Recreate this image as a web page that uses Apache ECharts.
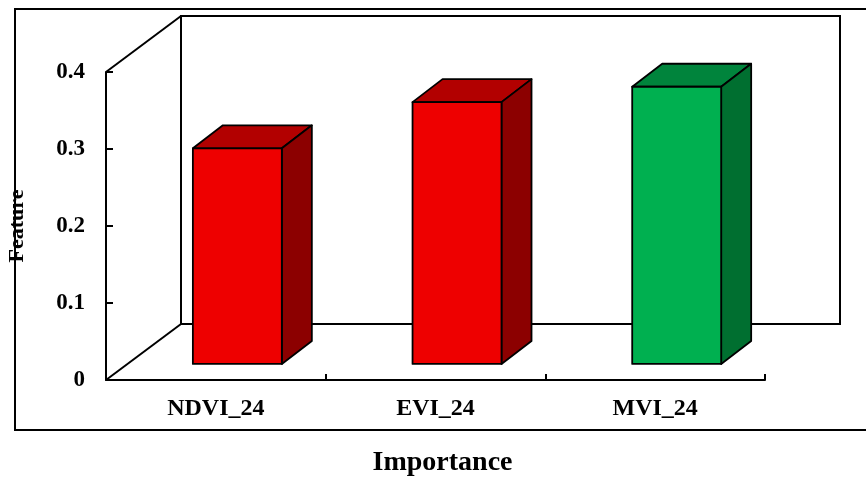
<!DOCTYPE html>
<html>
<head>
<meta charset="utf-8">
<script src="https://cdn.jsdelivr.net/npm/echarts@6/dist/echarts.min.js"></script>
<style>html,body{margin:0;padding:0;background:#fff;}#c{width:866px;height:479px;}</style>
</head>
<body>
<div id="c"></div>
<script>
// ---- data ----
const categories = ['NDVI_24', 'EVI_24', 'MVI_24'];
const importance = [0.28, 0.34, 0.36];
const yTickValues = [0, 0.1, 0.2, 0.3, 0.4];

// ---- style ----
const FONT = 'Liberation Serif';
const faceColors = [
  { front: '#EE0000', top: '#B20000', side: '#8C0000' },
  { front: '#EE0000', top: '#B20000', side: '#8C0000' },
  { front: '#00B050', top: '#00843C', side: '#006F30' }
];
const DEPTH_X = 75, DEPTH_Y = -56;   // full floor depth vector (px)
const FRONT = 0.287;                 // bar front face depth fraction
const BAR_DX = 30, BAR_DY = -23;     // bar depth
const BAR_W = 0.405;                 // bar width as fraction of band

const chart = echarts.init(document.getElementById('c'), null, { renderer: 'canvas' });

const option = {
  animation: false,
  backgroundColor: '#fff',
  graphic: [{
    type: 'rect', z: -10, silent: true,
    shape: { x: 15, y: 9, width: 900, height: 421 },
    style: { fill: 'none', stroke: '#000', lineWidth: 2 }
  }],
  grid: { left: 106, right: 101, top: 72, bottom: 99, containLabel: false, outerBoundsMode: 'none' },
  xAxis: {
    type: 'category',
    data: categories,
    name: 'Importance',
    nameLocation: 'middle',
    nameGap: 69,
    nameTextStyle: { fontFamily: FONT, fontWeight: 'bold', fontSize: 28, color: '#000', padding: [0, 0, 0, 14] },
    axisLine: { lineStyle: { color: '#000', width: 2 } },
    axisTick: { show: true, inside: true, length: 6, lineStyle: { color: '#000', width: 2 } },
    axisLabel: { fontFamily: FONT, fontWeight: 'bold', fontSize: 24, color: '#000', margin: 17 },
    splitLine: { show: false }
  },
  yAxis: {
    type: 'value',
    min: yTickValues[0],
    max: yTickValues[yTickValues.length - 1],
    interval: 0.1,
    name: 'Feature',
    nameLocation: 'middle',
    nameGap: 78,
    nameRotate: 90,
    nameTextStyle: { fontFamily: FONT, fontWeight: 'bold', fontSize: 22, color: '#000' },
    axisLine: { show: true, lineStyle: { color: '#000', width: 2 } },
    axisTick: { show: true, inside: true, length: 7, lineStyle: { color: '#000', width: 2 } },
    axisLabel: { fontFamily: FONT, fontWeight: 'bold', fontSize: 23, color: '#000', margin: 21 },
    splitLine: { show: false }
  },
  series: [
    {
      type: 'custom',
      z: 1,
      clip: false,
      silent: true,
      data: [[0, 0]],
      renderItem: function (params, api) {
        const cs = params.coordSys;
        const x0 = cs.x, yT = cs.y, yB = cs.y + cs.height;
        const ls = { stroke: '#000', lineWidth: 2, fill: 'none' };
        return {
          type: 'group',
          children: [
            { type: 'rect', shape: { x: x0 + DEPTH_X, y: yT + DEPTH_Y, width: cs.width, height: cs.height }, style: ls },
            { type: 'line', shape: { x1: x0, y1: yB, x2: x0 + DEPTH_X, y2: yB + DEPTH_Y }, style: ls },
            { type: 'line', shape: { x1: x0, y1: yT, x2: x0 + DEPTH_X, y2: yT + DEPTH_Y }, style: ls }
          ]
        };
      }
    },
    {
      type: 'custom',
      z: 2,
      clip: false,
      data: importance.map(function (v, i) { return [i, v]; }),
      encode: { x: 0, y: 1 },
      renderItem: function (params, api) {
        const i = api.value(0), v = api.value(1);
        const base = api.coord([i, 0]);
        const top = api.coord([i, v]);
        const bw = api.size([1, 0])[0] * BAR_W;
        const ox = DEPTH_X * FRONT, oy = DEPTH_Y * FRONT;
        const L = base[0] + ox - bw / 2, R = L + bw;
        const B = base[1] + oy, T = top[1] + oy;
        const c = faceColors[params.dataIndex];
        const st = { stroke: '#000', lineWidth: 1.8, lineJoin: 'round' };
        return {
          type: 'group',
          children: [
            { type: 'polygon', shape: { points: [[L, T], [L + BAR_DX, T + BAR_DY], [R + BAR_DX, T + BAR_DY], [R, T]] },
              style: Object.assign({ fill: c.top }, st) },
            { type: 'polygon', shape: { points: [[R, T], [R + BAR_DX, T + BAR_DY], [R + BAR_DX, B + BAR_DY], [R, B]] },
              style: Object.assign({ fill: c.side }, st) },
            { type: 'rect', shape: { x: L, y: T, width: bw, height: B - T },
              style: Object.assign({ fill: c.front }, st) }
          ]
        };
      }
    }
  ]
};
chart.setOption(option);
</script>
</body>
</html>
